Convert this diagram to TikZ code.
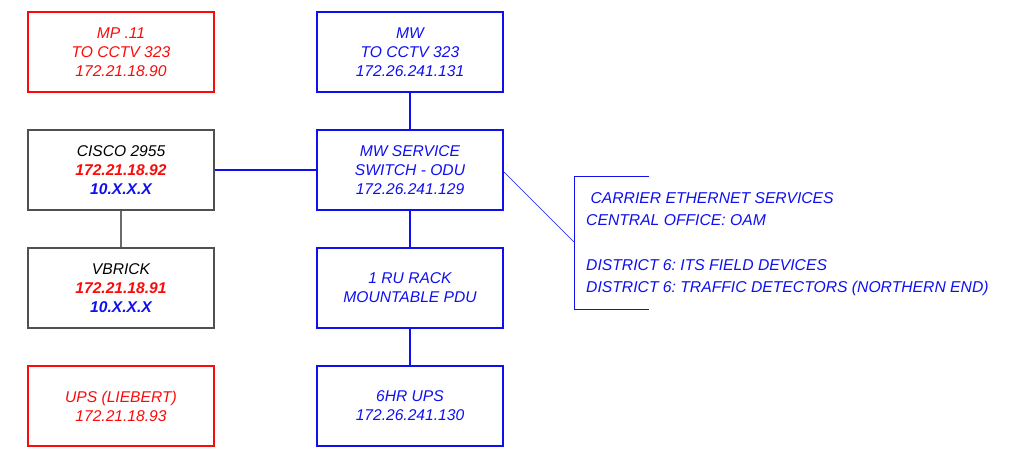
\documentclass[tikz,border=0pt]{standalone}
\usepackage{fontspec}
\setmainfont{Liberation Sans}
\usepackage{xcolor}
\usetikzlibrary{positioning}
\definecolor{netred}{RGB}{250,10,10}
\definecolor{netblue}{RGB}{15,15,240}
\definecolor{netgray}{RGB}{80,80,80}
\frenchspacing

\begin{document}
\begin{tikzpicture}[x=1pt, y=-1pt,
    every node/.style={font=\fontsize{15.6}{19}\selectfont\itshape, align=center},
    box/.style={draw, line width=2pt, minimum width=186pt, minimum height=80pt, inner sep=0pt},
    redbox/.style={box, draw=netred, text=netred},
    bluebox/.style={box, draw=netblue, text=netblue},
    graybox/.style={box, draw=netgray, line width=1.5pt, text=black},
    link/.style={line width=2pt, netblue},
    graylink/.style={line width=2pt, netgray!85}]
        \useasboundingbox (0,0) rectangle (1013,455);

        % left column
        \node[redbox] (mp) at (121,52) {MP .11\\TO CCTV 323\\172.21.18.90};
        \node[graybox] (cisco) at (121,170) {CISCO 2955\\\textcolor{netred}{\textbf{172.21.18.92}}\\\textcolor{netblue}{\textbf{10.X.X.X}}};
        \node[graybox] (vbrick) at (121,288) {VBRICK\\\textcolor{netred}{\textbf{172.21.18.91}}\\\textcolor{netblue}{\textbf{10.X.X.X}}};
        \node[redbox] (liebert) at (121,406) {UPS (LIEBERT)\\172.21.18.93};

        % middle column
        \node[bluebox] (mwcctv) at (410,52) {MW\\TO CCTV 323\\172.26.241.131};
        \node[bluebox] (mwsw) at (410,170) {MW SERVICE\\SWITCH - ODU\\172.26.241.129};
        \node[bluebox] (pdu) at (410,288) {1 RU RACK\\MOUNTABLE PDU};
        \node[bluebox] (ups) at (410,406) {6HR UPS\\172.26.241.130};

        \draw[link] (mwcctv) -- (mwsw);
        \draw[link] (mwsw) -- (pdu);
        \draw[link] (pdu) -- (ups);
        \draw[link] (cisco) -- (mwsw);
        \draw[graylink] (cisco) -- (vbrick);

        % services bracket
        \coordinate (brk) at (574,242);
        \draw[netblue, line width=0.8pt] (649,176) -- (574,176) -- (574,309) -- (649,309);
        \draw[netblue, line width=0.7pt] ([yshift=-2pt]mwsw.east) -- (brk);
        \node[anchor=north west, inner sep=0pt, align=left, text=netblue,
              font=\fontsize{15.7}{21.7}\selectfont\itshape] (svc) at (586,192.5)
            {\ CARRIER ETHERNET SERVICES\\CENTRAL OFFICE: OAM\\[23.3pt]DISTRICT 6: ITS FIELD DEVICES\\DISTRICT 6: TRAFFIC DETECTORS (NORTHERN END)};
\end{tikzpicture}
\end{document}
